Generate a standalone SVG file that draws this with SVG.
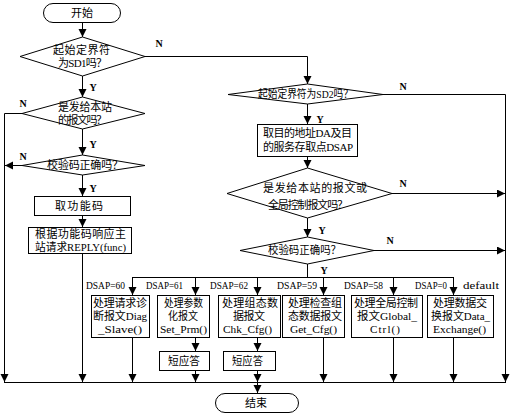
<svg xmlns="http://www.w3.org/2000/svg" width="511" height="416" viewBox="0 0 511 416">
<defs>
<marker id="ah" markerUnits="userSpaceOnUse" markerWidth="9" markerHeight="9" refX="8" refY="4" orient="auto">
<path d="M0,0 L8,4 L0,8 z" fill="#000"/>
</marker>
<style>
.s{fill:#fff;stroke:#000;stroke-width:1}
.c{fill:none;stroke:#000;stroke-width:1}
.a{marker-end:url(#ah)}
text{font-family:"Liberation Serif","Noto Sans CJK SC",serif;font-size:11px;fill:#000;dominant-baseline:central}
.l{font-weight:bold;font-size:10px;text-anchor:middle}
</style>
</defs>
<rect width="511" height="416" fill="#fff"/>
<g id="connectors">
<path class="c a" d="M82.5,22 V37"/>
<path class="c a" d="M145,56.5 H307.5 V84"/>
<path class="c a" d="M82.5,76 V97"/>
<path class="c a" d="M22,113.5 H4.5 V382"/>
<path class="c a" d="M82.5,129 V155"/>
<path class="c a" d="M22,165.5 H5"/>
<path class="c a" d="M82.5,175 V196"/>
<path class="c a" d="M82.5,216 V227"/>
<path class="c a" d="M82.5,254 V382"/>
<path class="c a" d="M383,94.5 H505.5 V382"/>
<path class="c a" d="M307.5,104 V124"/>
<path class="c a" d="M307.5,157 V168"/>
<path class="c a" d="M392,193.5 H505"/>
<path class="c a" d="M307.5,218 V237"/>
<path class="c a" d="M374,250.5 H505"/>
<path class="c" d="M307.5,264 V277.5 M132.5,277.5 H453.5"/>
<path class="c a" d="M132.5,277 V295"/>
<path class="c a" d="M195.5,277 V295"/>
<path class="c a" d="M257.5,277 V295"/>
<path class="c a" d="M323.5,277 V295"/>
<path class="c a" d="M393.5,277 V295"/>
<path class="c a" d="M453.5,277 V295"/>
<path class="c a" d="M132.5,338 V382"/>
<path class="c a" d="M195.5,338 V351"/>
<path class="c a" d="M195.5,370 V382"/>
<path class="c a" d="M257.5,338 V351"/>
<path class="c a" d="M257.5,370 V382"/>
<path class="c a" d="M323.5,338 V382"/>
<path class="c a" d="M393.5,338 V382"/>
<path class="c a" d="M453.5,338 V382"/>
<path class="c" d="M4,382.5 H506"/>
<path class="c a" d="M257.5,382 V393"/>
<text class="l" x="159" y="43">N</text>
<text class="l" x="23" y="103">N</text>
<text class="l" x="23" y="156">N</text>
<text class="l" x="403" y="86">N</text>
<text class="l" x="403" y="183">N</text>
<text class="l" x="390" y="240">N</text>
<text class="l" x="93" y="87">Y</text>
<text class="l" x="93" y="144">Y</text>
<text class="l" x="93" y="188">Y</text>
<text class="l" x="320" y="119">Y</text>
<text class="l" x="322" y="230">Y</text>
<text class="l" x="324" y="270">Y</text>
<text x="86" y="285" textLength="39" lengthAdjust="spacingAndGlyphs">DSAP=60</text>
<text x="146" y="285" textLength="37" lengthAdjust="spacingAndGlyphs">DSAP=61</text>
<text x="210" y="285" textLength="38" lengthAdjust="spacingAndGlyphs">DSAP=62</text>
<text x="277" y="285" textLength="40" lengthAdjust="spacingAndGlyphs">DSAP=59</text>
<text x="344" y="285" textLength="39" lengthAdjust="spacingAndGlyphs">DSAP=58</text>
<text x="415" y="285" textLength="32" lengthAdjust="spacingAndGlyphs">DSAP=0</text>
<text x="463" y="285" textLength="36" lengthAdjust="spacingAndGlyphs">default</text>
</g>
<g id="start">
<rect class="s" x="43.5" y="3.5" width="77" height="19" rx="9.5"/>
<text x="82" y="13" text-anchor="middle">开始</text>
</g>
<g id="d1">
<polygon class="s" points="82.5,37 145,56.5 82.5,76 20,56.5"/>
<text x="53" y="50" textLength="57">起始定界符</text>
<text x="58" y="63" textLength="49">为SD1吗？</text>
</g>
<g id="d2">
<polygon class="s" points="82.5,97 145,113.5 82.5,129 22,113.5"/>
<text x="58" y="106.5" textLength="54">是发给本站</text>
<text x="58" y="119.5" textLength="49">的报文吗？</text>
</g>
<g id="d3">
<polygon class="s" points="82.5,155 145,165.5 82.5,175 22,165.5"/>
<text x="47" y="165" textLength="76">校验码正确吗？</text>
</g>
<g id="b1">
<rect class="s" x="34.5" y="196.5" width="96" height="19"/>
<text x="55" y="206" textLength="48">取功能码</text>
</g>
<g id="b2">
<rect class="s" x="28.5" y="227.5" width="103" height="26"/>
<text x="35" y="234" textLength="91">根据功能码响应主</text>
<text x="35" y="247" textLength="91" lengthAdjust="spacingAndGlyphs">站请求REPLY(func)</text>
</g>
<g id="d4">
<polygon class="s" points="307.5,84 383,94.5 307.5,104 228,94.5"/>
<text x="258" y="94" textLength="95" lengthAdjust="spacingAndGlyphs">起始定界符为SD2吗？</text>
</g>
<g id="b3">
<rect class="s" x="257.5" y="124.5" width="100" height="32"/>
<text x="263" y="133" textLength="89">取目的地址DA及目</text>
<text x="263" y="147" textLength="90">的服务存取点DSAP</text>
</g>
<g id="d5">
<polygon class="s" points="307.5,168 392,193.5 307.5,218 227,193.5"/>
<text x="263" y="188" textLength="104">是发给本站的报文或</text>
<text x="268" y="205" textLength="80">全局控制报文吗？</text>
</g>
<g id="d6">
<polygon class="s" points="307.5,237 374,250.5 307.5,264 240,250.5"/>
<text x="268" y="250" textLength="73" lengthAdjust="spacingAndGlyphs">校验码正确吗？</text>
</g>
<g id="p60">
<rect class="s" x="91.5" y="295.5" width="58" height="42"/>
<text x="93" y="303" textLength="54">处理请求诊</text>
<text x="93" y="316" textLength="54">断报文Diag</text>
<text x="98" y="329" textLength="44" lengthAdjust="spacingAndGlyphs">_Slave()</text>
</g>
<g id="p61">
<rect class="s" x="157.5" y="295.5" width="52" height="42"/>
<text x="164" y="303" textLength="39" lengthAdjust="spacingAndGlyphs">处理参数</text>
<text x="168" y="316" textLength="30" lengthAdjust="spacingAndGlyphs">化报文</text>
<text x="160" y="329" textLength="47" lengthAdjust="spacingAndGlyphs">Set_Prm()</text>
</g>
<g id="p62">
<rect class="s" x="218.5" y="295.5" width="62" height="42"/>
<text x="222" y="303" textLength="56">处理组态数</text>
<text x="233" y="316" textLength="32">据报文</text>
<text x="223" y="329" textLength="49" lengthAdjust="spacingAndGlyphs">Chk_Cfg()</text>
</g>
<g id="p59">
<rect class="s" x="282.5" y="295.5" width="62" height="42"/>
<text x="288" y="303" textLength="54">处理检查组</text>
<text x="288" y="316" textLength="54">态数据报文</text>
<text x="290" y="329" textLength="47" lengthAdjust="spacingAndGlyphs">Get_Cfg()</text>
</g>
<g id="p58">
<rect class="s" x="351.5" y="295.5" width="71" height="42"/>
<text x="354" y="303" textLength="64">处理全局控制</text>
<text x="357" y="316" textLength="60" lengthAdjust="spacingAndGlyphs">报文Global_</text>
<text x="370" y="329" textLength="30">Ctrl()</text>
</g>
<g id="p0">
<rect class="s" x="427.5" y="295.5" width="66" height="42"/>
<text x="433" y="303" textLength="54">处理数据交</text>
<text x="431" y="316" textLength="59" lengthAdjust="spacingAndGlyphs">换报文Data_</text>
<text x="433" y="329" textLength="53" lengthAdjust="spacingAndGlyphs">Exchange()</text>
</g>
<g id="r61">
<rect class="s" x="159.5" y="351.5" width="50" height="19"/>
<text x="168" y="361" textLength="32" lengthAdjust="spacingAndGlyphs">短应答</text>
</g>
<g id="r62">
<rect class="s" x="223.5" y="351.5" width="52" height="19"/>
<text x="232" y="361" textLength="31" lengthAdjust="spacingAndGlyphs">短应答</text>
</g>
<g id="end">
<rect class="s" x="215.5" y="393.5" width="83" height="19" rx="9.5"/>
<text x="256" y="403" text-anchor="middle">结束</text>
</g>
</svg>
